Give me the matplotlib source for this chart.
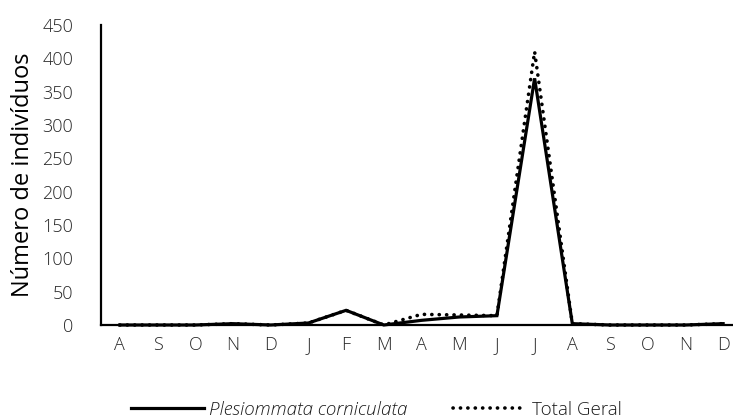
import matplotlib
matplotlib.use("Agg")
import matplotlib.pyplot as plt

months = ["A", "S", "O", "N", "D", "J", "F", "M", "A", "M", "J", "J", "A", "S", "O", "N", "D"]
plesiommata = [0, 0, 0, 2, 0, 3, 22, 0, 7, 12, 14, 370, 2, 0, 0, 0, 2]
total_geral = [0, 0, 0, 2, 0, 3, 22, 0, 16, 15, 14, 410, 2, 0, 0, 0, 2]
yticks = [0, 50, 100, 150, 200, 250, 300, 350, 400, 450]

plt.rcParams['font.family'] = ['Open Sans', 'DejaVu Sans']
plt.rcParams['font.weight'] = 'light'

fig = plt.figure(figsize=(7.33, 4.19), dpi=100)
W, H = 733, 419
left, right, bottom, top = 101, 742, 325, 25
ax = fig.add_axes([left / W, 1 - bottom / H, (right - left) / W, (bottom - top) / H])

x = list(range(len(months)))
l1, = ax.plot(x, plesiommata, color="black", lw=2.3, solid_joinstyle="miter",
              label="Plesiommata corniculata", clip_on=False, zorder=3)
l2, = ax.plot(x, total_geral, color="black", lw=2.6, linestyle=(0, (0.05, 2.0)),
              dash_capstyle="round", label="Total Geral", clip_on=False, zorder=4)

ax.set_xlim(-0.5, len(months) - 0.5)
ax.set_ylim(0, 450)
ax.set_yticks(yticks)
ax.set_xticks(x)
ax.set_xticklabels(months)
for s in ["top", "right"]:
    ax.spines[s].set_visible(False)
for s in ["left", "bottom"]:
    ax.spines[s].set_linewidth(1.6)
    ax.spines[s].set_color("black")
ax.tick_params(axis="both", length=0, colors="#262626", labelsize=13)
ax.tick_params(axis="y", pad=20)
ax.tick_params(axis="x", pad=8)
ax.set_ylabel("Número de indivíduos", fontsize=17, color="black", labelpad=5)

leg = fig.legend(handles=[l1, l2], loc="center", bbox_to_anchor=(0.513, 0.022),
                 ncol=2, frameon=False, fontsize=13.5, handlelength=3.9,
                 handletextpad=0.3, columnspacing=2.4)
leg.get_texts()[0].set_fontstyle("italic")
for t in leg.get_texts():
    t.set_color("#1a1a1a")

fig.savefig("out.png", dpi=100)
